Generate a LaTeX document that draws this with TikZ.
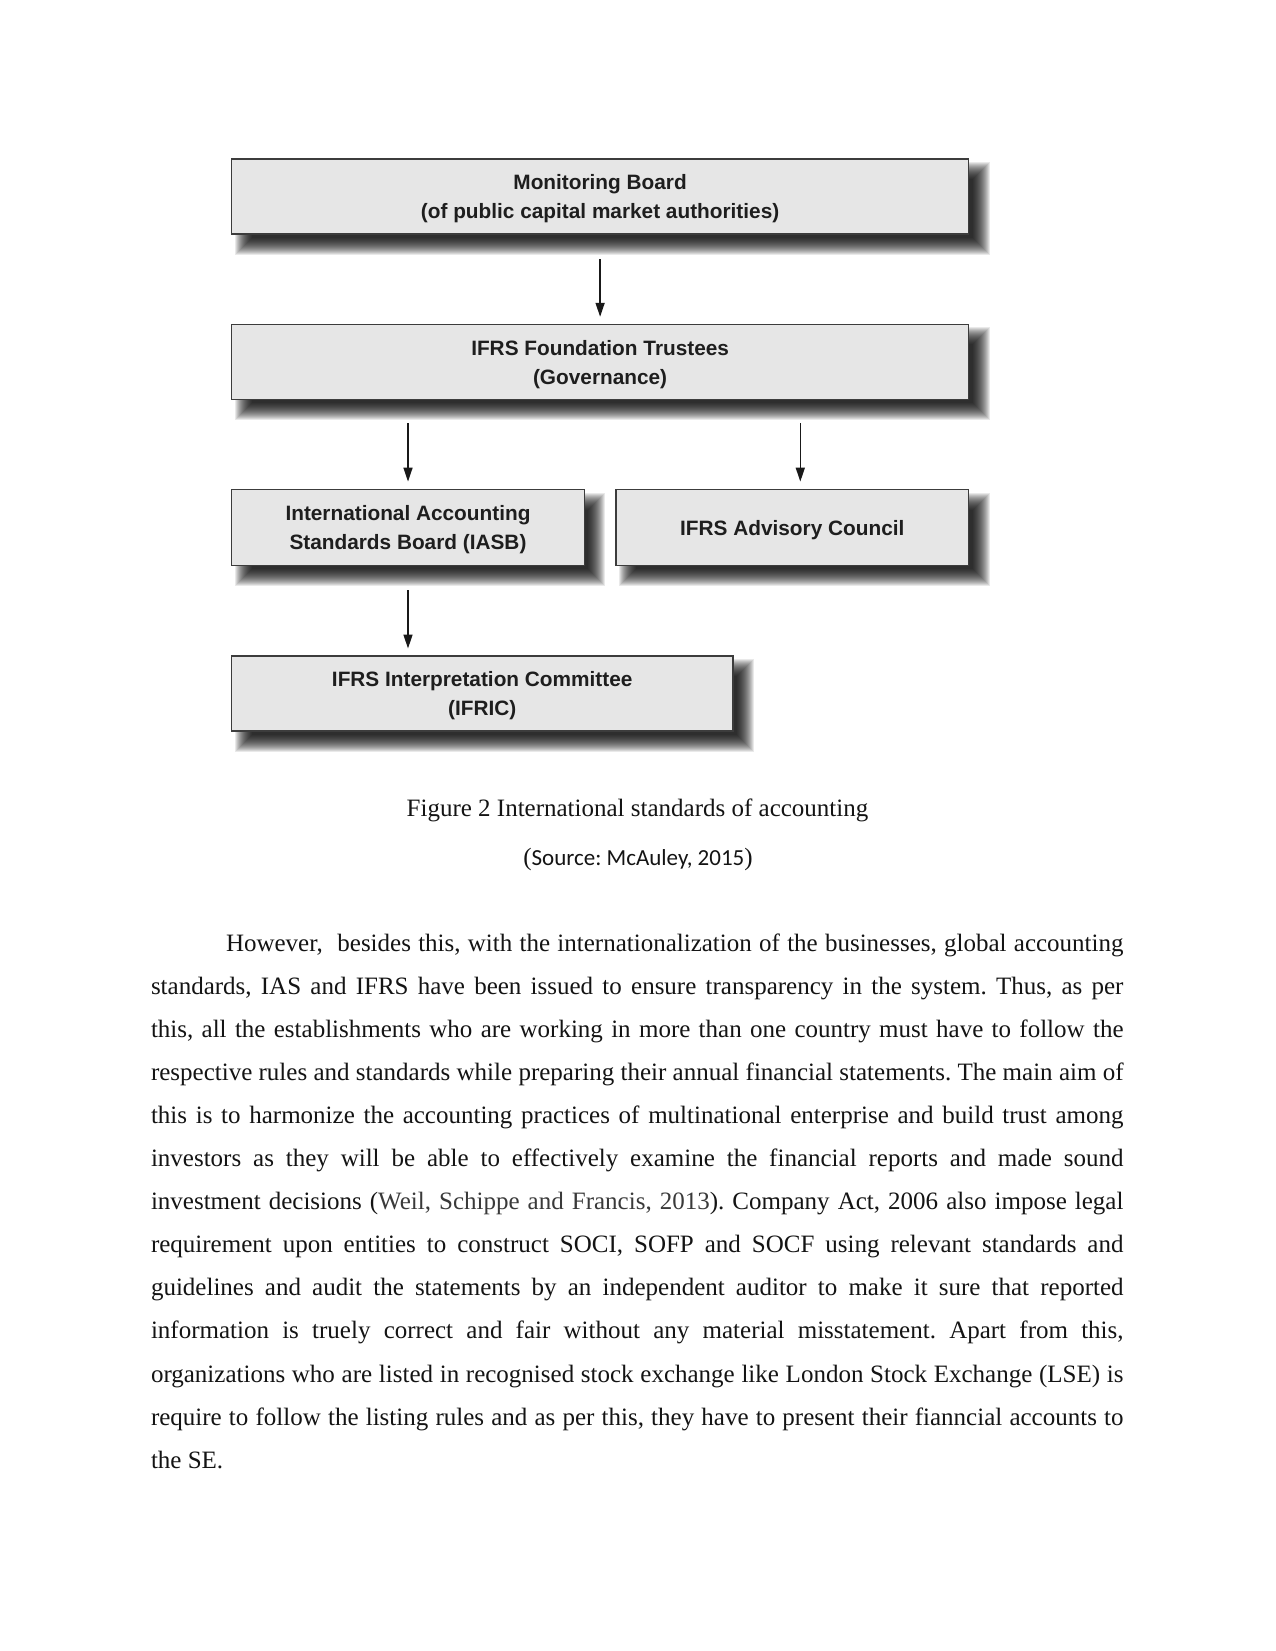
\documentclass[tikz,border=0pt]{standalone}
\usepackage{fontspec}
\setmainfont{Liberation Serif}
\newfontfamily\boxfont{Liberation Sans}
\newfontfamily\calfont{Carlito}
\usetikzlibrary{arrows.meta,backgrounds,calc}
\definecolor{boxfill}{HTML}{E6E6E6}
\definecolor{boxline}{HTML}{3C3C3C}
\definecolor{boxtext}{HTML}{1E1E1E}
\definecolor{bodytext}{HTML}{141414}
\definecolor{citetext}{HTML}{3A3A3A}
\tikzset{
  orgbox/.style={draw=boxline, line width=1.6pt, fill=boxfill, inner sep=0pt, outer sep=0pt,
    anchor=north west},
  boxtxt/.style={inner sep=0pt, align=center, text=boxtext,
    font=\boxfont\bfseries\fontsize{20.8}{29}\selectfont},
  arr/.style={draw=black!90, line width=1.6pt, -{Triangle[width=9pt,length=14pt]}},
  bodyline/.style={anchor=base west, inner sep=0pt, outer sep=0pt, text=bodytext,
    font=\fontsize{25}{30}\selectfont},
  caption/.style={anchor=base, inner sep=0pt, text=bodytext, font=\fontsize{25}{30}\selectfont}
}
% soft drop shadow: offset 12, blur radius 9, built from stacked translucent rectangles
\newcommand{\dropshadow}[1]{%
  \foreach \k in {0,...,17}{%
    \fill[black, opacity=0.085]
      ([shift={({3+\k},{3+\k})}]#1.north west) rectangle
      ([shift={({21-\k},{21-\k})}]#1.south east);
  }%
}
\begin{document}
\frenchspacing
\begin{tikzpicture}[x=1pt,y=-1pt]
\useasboundingbox (0,0) rectangle (1275,1651);

% boxes
\node[orgbox, minimum width=737pt, minimum height=75pt] (b1) at (231.6,159) {};
\node[orgbox, minimum width=737pt, minimum height=75pt] (b2) at (231.6,324.3) {};
\node[orgbox, minimum width=352.8pt, minimum height=75.8pt] (b3) at (231.6,489.6) {};
\node[orgbox, minimum width=352.6pt, minimum height=75.8pt] (b4) at (616,489.6) {};
\node[orgbox, minimum width=501.2pt, minimum height=74.7pt] (b5) at (231.6,656) {};

\node[boxtxt] (t1) at ([yshift=-2.5pt]b1.center) {Monitoring Board\\(of public capital market authorities)};
\node[boxtxt] (t2) at ([yshift=-2.5pt]b2.center) {IFRS Foundation Trustees\\(Governance)};
\node[boxtxt] (t3) at ([yshift=-2.5pt]b3.center) {International Accounting\\Standards Board (IASB)};
\node[boxtxt] (t4) at ([yshift=-2.5pt]b4.center) {IFRS Advisory Council};
\node[boxtxt] (t5) at ([yshift=-2.5pt]b5.center) {IFRS Interpretation Committee\\(IFRIC)};

\begin{scope}[on background layer]
  \fill[white] (0,0) rectangle (1275,1651);
  \dropshadow{b1}
  \dropshadow{b2}
  \dropshadow{b3}
  \dropshadow{b4}
  \dropshadow{b5}
\end{scope}

% arrows
\draw[arr, shorten <=25pt, shorten >=7.5pt] (b1.south) -- (b2.north);
\draw[arr, shorten <=24pt, shorten >=8pt] (b3.north |- b2.south) -- (b3.north);
\coordinate (c4) at ([xshift=8pt]b4.north);
\draw[arr, shorten <=24pt, shorten >=8pt] (c4 |- b2.south) -- (c4);
\draw[arr, shorten <=25pt, shorten >=7.5pt] (b3.south) -- (b5.north -| b3.south);

% caption
\node[caption] (cap1) at (637.5,816) {Figure 2 International standards of accounting};
\node[caption] (cap2) at (638,865) {(\calfont\fontsize{23}{28}\selectfont Source: McAuley, 2015\rmfamily\fontsize{25}{30}\selectfont)};

% body text
\node[bodyline] (l1) at (226,951) {\makebox[897.5pt][s]{However,\ \ besides this, with the internationalization of the businesses, global accounting}};
\node[bodyline] (l2) at (151,994.1) {\makebox[972.5pt][s]{standards, IAS and IFRS have been issued to ensure transparency in the system. Thus, as per}};
\node[bodyline] (l3) at (151,1037.2) {\makebox[972.5pt][s]{this, all the establishments who are working in more than one country must have to follow the}};
\node[bodyline] (l4) at (151,1080.3) {\makebox[972.5pt][s]{respective rules and standards while preparing their annual financial statements. The main aim of}};
\node[bodyline] (l5) at (151,1123.4) {\makebox[972.5pt][s]{this is to harmonize the accounting practices of multinational enterprise and build trust among}};
\node[bodyline] (l6) at (151,1166.5) {\makebox[972.5pt][s]{investors as they will be able to effectively examine the financial reports and made sound}};
\node[bodyline] (l7) at (151,1209.6) {\makebox[972.5pt][s]{investment decisions ({\color{citetext}Weil, Schippe and Francis, 2013}). Company Act, 2006 also impose legal}};
\node[bodyline] (l8) at (151,1252.7) {\makebox[972.5pt][s]{requirement upon entities to construct SOCI, SOFP and SOCF using relevant standards and}};
\node[bodyline] (l9) at (151,1295.8) {\makebox[972.5pt][s]{guidelines and audit the statements by an independent auditor to make it sure that reported}};
\node[bodyline] (l10) at (151,1338.9) {\makebox[972.5pt][s]{information is truely correct and fair without any material misstatement. Apart from this,}};
\node[bodyline] (l11) at (151,1382.0) {\makebox[972.5pt][s]{organizations who are listed in recognised stock exchange like London Stock Exchange (LSE) is}};
\node[bodyline] (l12) at (151,1425.1) {\makebox[972.5pt][s]{require to follow the listing rules and as per this, they have to present their fianncial accounts to}};
\node[bodyline] (l13) at (151,1468.2) {the SE.};
\end{tikzpicture}
\end{document}
